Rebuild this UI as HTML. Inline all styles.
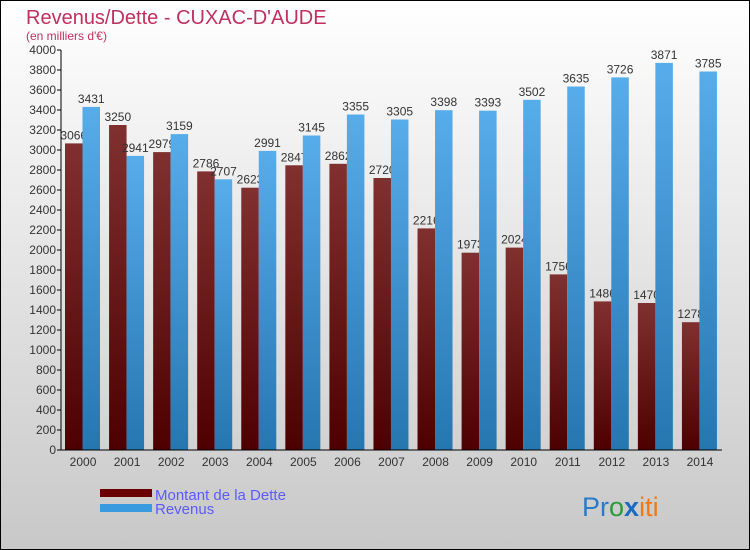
<!DOCTYPE html>
<html><head><meta charset="utf-8"><style>
body{margin:0}
svg{display:block;font-family:"Liberation Sans",sans-serif}
</style></head><body>
<svg width="750" height="550" viewBox="0 0 750 550">
<defs>
<linearGradient id="bg" x1="0" y1="0" x2="0" y2="1"><stop offset="0" stop-color="#ffffff"/><stop offset="1" stop-color="#c8c8c8"/></linearGradient>
<linearGradient id="gd" x1="0" y1="0" x2="0" y2="1"><stop offset="0" stop-color="#80302f"/><stop offset="1" stop-color="#4e0000"/></linearGradient>
<linearGradient id="gr" x1="0" y1="0" x2="0" y2="1"><stop offset="0" stop-color="#57acea"/><stop offset="1" stop-color="#2676b0"/></linearGradient>
</defs>
<rect x="0.5" y="0.5" width="749" height="549" fill="url(#bg)" stroke="#000"/>
<text x="26" y="24" font-size="20" fill="#c0305e">Revenus/Dette - CUXAC-D'AUDE</text>
<text x="26" y="40" font-size="12" fill="#c0305e">(en milliers d'€)</text>
<g id="plot"></g>
<g>
<rect x="100" y="489" width="52" height="8" fill="#6a0000"/>
<text x="155" y="500" font-size="15" fill="#5a5aff">Montant de la Dette</text>
<rect x="100" y="504" width="52" height="8" fill="#3a9ae0"/>
<text x="155" y="514" font-size="15" fill="#5a5aff">Revenus</text>
</g>
<text x="582" y="516" font-size="27"><tspan fill="#2a7ac8">Pr</tspan><tspan fill="#2a9a3a">o</tspan><tspan fill="#1a6ac0" font-weight="bold">x</tspan><tspan fill="#f07a10">iti</tspan></text>
</svg>
<script>
const years=["2000","2001","2002","2003","2004","2005","2006","2007","2008","2009","2010","2011","2012","2013","2014"];
const dette=[3066,3250,2979,2786,2623,2847,2862,2720,2216,1973,2024,1756,1486,1470,1278];
const revenus=[3431,2941,3159,2707,2991,3145,3355,3305,3398,3393,3502,3635,3726,3871,3785];
const yTicks=[0,200,400,600,800,1000,1200,1400,1600,1800,2000,2200,2400,2600,2800,3000,3200,3400,3600,3800,4000];
const NS="http://www.w3.org/2000/svg";
const g=document.getElementById('plot');
const X0=61,X1=722,Y0=450,Y1=50,YMAX=4000;
const step=(X1-X0)/years.length;
const y=v=>Y0-(v/YMAX)*(Y0-Y1);
const x=i=>X0+i*step;
function mk(t,a){const e=document.createElementNS(NS,t);for(const k in a)e.setAttribute(k,a[k]);g.appendChild(e);return e;}
yTicks.forEach(v=>{
 const t=mk('text',{x:X0-5,y:y(v)+4,'font-size':12,'text-anchor':'end',fill:'#333'});t.textContent=v;
 
 
 const l=mk('line',{x1:X0-4,x2:X0,y1:y(v),y2:y(v),stroke:'#000'});
 
 
});
const bw=17.5;
years.forEach((yr,i)=>{
 const bx=x(i)+4;
 const r=mk('rect',{x:bx,y:y(dette[i]),width:bw,height:Y0-y(dette[i]),fill:'url(#gd)'});
 
 
 const t=mk('text',{x:bx+bw/2,y:y(dette[i])-4,'font-size':12,'text-anchor':'middle',fill:'#333'});t.textContent=dette[i];
 
 
});
years.forEach((yr,i)=>{
 const bx=x(i)+4+bw;
 const r=mk('rect',{x:bx,y:y(revenus[i]),width:bw,height:Y0-y(revenus[i]),fill:'url(#gr)'});
 
 
 const t=mk('text',{x:bx+bw/2,y:y(revenus[i])-4,'font-size':12,'text-anchor':'middle',fill:'#333'});t.textContent=revenus[i];
 
 
 const xl=mk('text',{x:x(i)+step/2,y:466,'font-size':12,'text-anchor':'middle',fill:'#333'});xl.textContent=yr;
 
 
});
const ya=mk('line',{x1:X0,x2:X0,y1:Y1,y2:Y0,stroke:'#000'});


const xa=mk('line',{x1:X0,x2:X1,y1:Y0,y2:Y0,stroke:'#000'});


</script>
</body></html>
